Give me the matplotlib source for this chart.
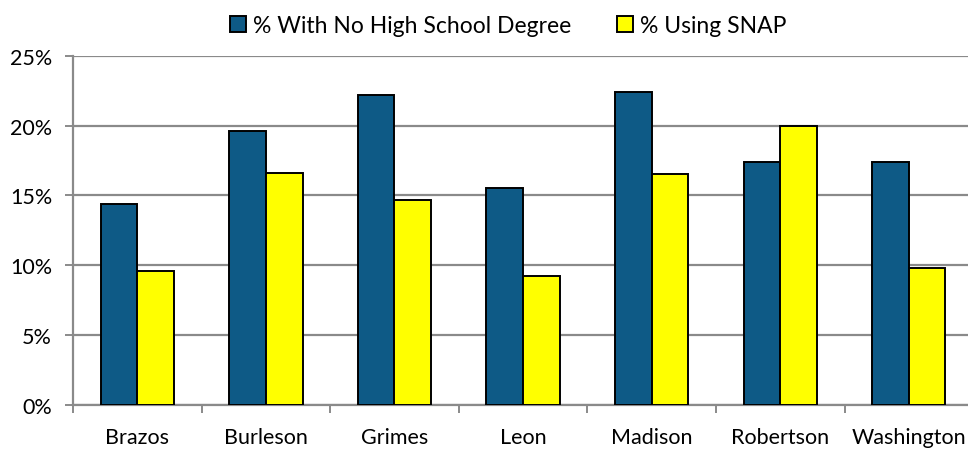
import numpy as np
import matplotlib
matplotlib.use("Agg")
import matplotlib.pyplot as plt
from matplotlib.ticker import FixedLocator, PercentFormatter

# County figures (percent of population)
counties = ["Brazos", "Burleson", "Grimes", "Leon", "Madison", "Robertson", "Washington"]
no_hs_degree = [14.4, 19.6, 22.2, 15.5, 22.4, 17.4, 17.4]
using_snap = [9.6, 16.6, 14.7, 9.2, 16.5, 20.0, 9.8]

plt.rcParams["font.family"] = ["Lato", "DejaVu Sans"]

fig = plt.figure(figsize=(9.68, 4.52), dpi=100)
ax = fig.add_axes([0.0754, 0.1018, 0.9246, 0.7728])

x = np.arange(len(counties))
w = 0.285
ax.bar(x - w / 2, no_hs_degree, w, color="#0E5A86", edgecolor="black",
       linewidth=1.4, zorder=3, label="% With No High School Degree")
ax.bar(x + w / 2, using_snap, w, color="#FFFF00", edgecolor="black",
       linewidth=1.4, zorder=3, label="% Using SNAP")

ax.set_ylim(0, 25)
ax.set_xlim(-0.5, 6.46)
ax.set_yticks(range(0, 26, 5))
ax.yaxis.set_major_formatter(PercentFormatter(decimals=0))
ax.grid(axis="y", color="#8a8a8a", linewidth=1.6, zorder=0)

# category labels without ticks, tick marks between categories
ax.set_xticks(x)
ax.set_xticklabels(counties)
ax.tick_params(axis="x", which="major", length=0, pad=16, labelsize=15.5)
ax.xaxis.set_minor_locator(FixedLocator(np.arange(-0.5, 7, 1.0)))
ax.tick_params(axis="x", which="minor", length=6, width=1.4, color="#8a8a8a")
ax.tick_params(axis="y", length=6, width=1.4, color="#8a8a8a", pad=9, labelsize=15.5)

for s in ["top", "right"]:
    ax.spines[s].set_visible(False)
for s in ["left", "bottom"]:
    ax.spines[s].set_color("#8a8a8a")
    ax.spines[s].set_linewidth(1.6)

fig.legend(loc="upper center", bbox_to_anchor=(0.525, 1.01), ncol=2, frameon=False,
           fontsize=16.5, handlelength=0.7, handleheight=0.7, handletextpad=0.3,
           columnspacing=2.0)

fig.savefig("out.png", dpi=100)
